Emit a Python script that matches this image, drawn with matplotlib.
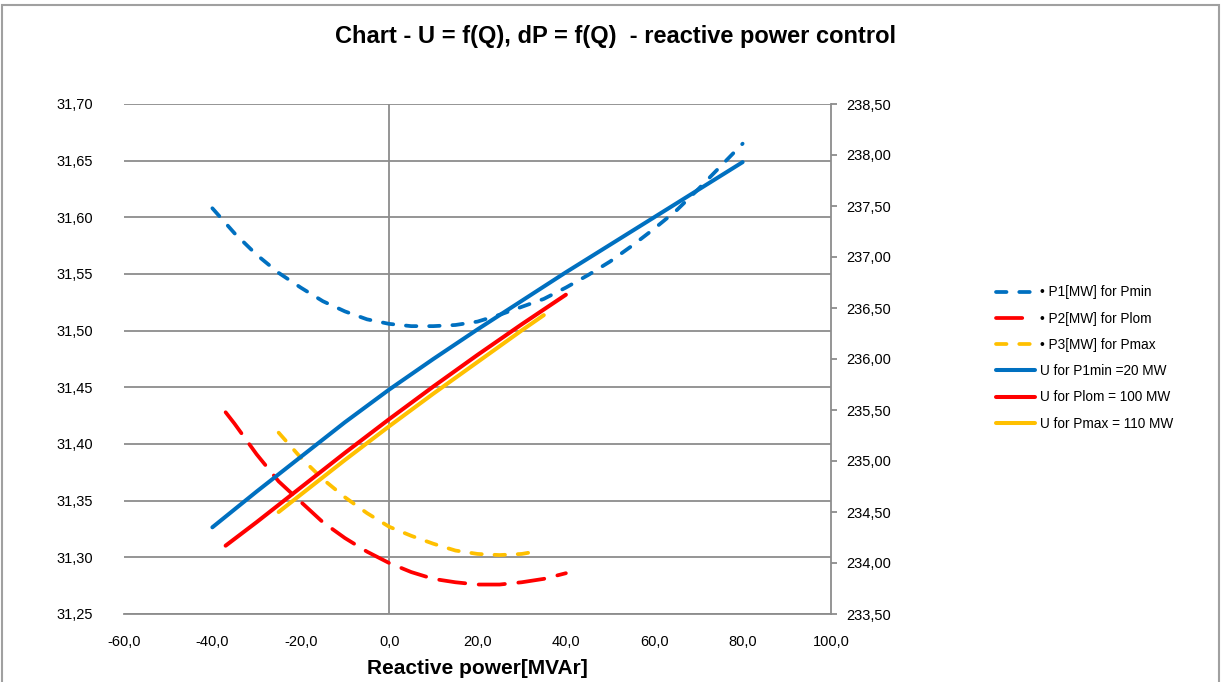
import matplotlib.pyplot as plt
from matplotlib.patches import Rectangle
from matplotlib.ticker import FuncFormatter, MultipleLocator

# dP = f(Q), left axis
p1_q = [-40, -35, -30, -25, -20, -15, -10, -5, 0, 5, 10, 15, 20, 25, 30, 35, 40,
        45, 50, 55, 60, 65, 70, 75, 80]
p1 = [31.608, 31.586, 31.567, 31.551, 31.538, 31.526, 31.517, 31.510, 31.506,
      31.504, 31.504, 31.505, 31.508, 31.514, 31.521, 31.528, 31.538, 31.549,
      31.561, 31.575, 31.590, 31.606, 31.625, 31.645, 31.665]

p2_q = [-37, -35, -30, -25, -20, -15, -10, -5, 0, 5, 10, 15, 20, 25, 30, 35, 40]
p2 = [31.428, 31.418, 31.391, 31.367, 31.349, 31.331, 31.317, 31.305, 31.295,
      31.287, 31.281, 31.278, 31.276, 31.276, 31.278, 31.281, 31.286]

p3_q = [-25, -20, -15, -10, -5, 0, 5, 10, 15, 20, 25, 30, 33]
p3 = [31.410, 31.388, 31.369, 31.353, 31.339, 31.327, 31.319, 31.312, 31.306,
      31.303, 31.302, 31.303, 31.305]

# U = f(Q), right axis
u1_q = [-40, -30, -20, -10, 0, 10, 20, 30, 40, 50, 60, 70, 80]
u1 = [234.35, 234.70, 235.04, 235.38, 235.70, 236.00, 236.29, 236.57, 236.85,
      237.12, 237.39, 237.66, 237.93]

u2_q = [-37, -30, -20, -10, 0, 10, 20, 30, 40]
u2 = [234.17, 234.40, 234.74, 235.08, 235.41, 235.73, 236.04, 236.34, 236.63]

u3_q = [-25, -20, -10, 0, 10, 20, 30, 35]
u3 = [234.50, 234.67, 235.01, 235.34, 235.66, 235.97, 236.28, 236.43]

BLUE = '#0070C0'
RED = '#FF0000'
YELLOW = '#FFC000'
GRID = '#8C8C8C'

plt.rcParams['font.family'] = ['Liberation Sans', 'DejaVu Sans']

fig = plt.figure(figsize=(12.22, 6.82), dpi=100)
ax = fig.add_axes([124 / 1222, 1 - 614 / 682, 707 / 1222, 510 / 682])
ax2 = ax.twinx()

ax.set_xlim(-60, 100)
ax.set_ylim(31.25, 31.70)
ax2.set_ylim(233.5, 238.5)
ax.xaxis.set_major_locator(MultipleLocator(20))
ax.yaxis.set_major_locator(MultipleLocator(0.05))
ax2.yaxis.set_major_locator(MultipleLocator(0.5))

ax.yaxis.grid(True, color=GRID, lw=1.3)
ax.set_axisbelow(True)
ax.axvline(0, color=GRID, lw=1.3, zorder=0.5)

for s in ['top', 'left']:
    ax.spines[s].set_visible(False)
    ax2.spines[s].set_visible(False)
ax.spines['right'].set_visible(False)
ax.spines['bottom'].set_color(GRID)
ax.spines['bottom'].set_linewidth(1.3)
ax2.spines['bottom'].set_visible(False)
ax2.spines['right'].set_color(GRID)
ax2.spines['right'].set_linewidth(1.3)

fmt = lambda d: FuncFormatter(lambda v, p: f'{v:.{d}f}'.replace('.', ','))
ax.xaxis.set_major_formatter(fmt(1))
ax.yaxis.set_major_formatter(fmt(2))
ax2.yaxis.set_major_formatter(fmt(2))

ax.tick_params(axis='x', length=0, pad=15, labelsize=10.5)
ax.tick_params(axis='y', length=0, pad=22, labelsize=10.5)
ax2.tick_params(axis='y', length=4, width=1.3, color=GRID, pad=7, labelsize=10.5)

lw_d = 2.7
h1, = ax.plot(p1_q, p1, color=BLUE, lw=lw_d, dashes=(2.8, 3.4), dash_capstyle='round',
              label='• P1[MW] for Pmin')
h2, = ax.plot(p2_q, p2, color=RED, lw=lw_d, dashes=(7, 3.6), dash_capstyle='round',
              label='• P2[MW] for Plom')
h3, = ax.plot(p3_q, p3, color=YELLOW, lw=lw_d, dashes=(2.8, 3.4), dash_capstyle='round',
              label='• P3[MW] for Pmax')
h4, = ax2.plot(u1_q, u1, color=BLUE, lw=2.9, solid_capstyle='round', label='U for P1min =20 MW')
h5, = ax2.plot(u2_q, u2, color=RED, lw=2.9, solid_capstyle='round', label='U for Plom = 100 MW')
h6, = ax2.plot(u3_q, u3, color=YELLOW, lw=2.9, solid_capstyle='round', label='U for Pmax = 110 MW')

fig.legend(handles=[h1, h2, h3, h4, h5, h6], loc='center left',
           bbox_to_anchor=(996 / 1222, 1 - 358 / 682), frameon=False,
           prop={'size': 9.8}, handlelength=2.9,
           handletextpad=0.35, labelspacing=0.9, borderpad=0, borderaxespad=0)

fig.text(615 / 1222, 1 - 37 / 682, 'Chart - U = f(Q), dP = f(Q)  - reactive power control',
         ha='center', va='center', fontsize=17, fontweight='bold')
fig.text(477 / 1222, 1 - 668 / 682, 'Reactive power[MVAr]', ha='center', va='center',
         fontsize=15, fontweight='bold')

fig.patches.append(Rectangle((2 / 1222, -0.02), 1217 / 1222, 1 - 5 / 682 + 0.02,
                             transform=fig.transFigure, fill=False, ec='#A0A0A0', lw=1.5))

fig.savefig('out.png', dpi=100)
